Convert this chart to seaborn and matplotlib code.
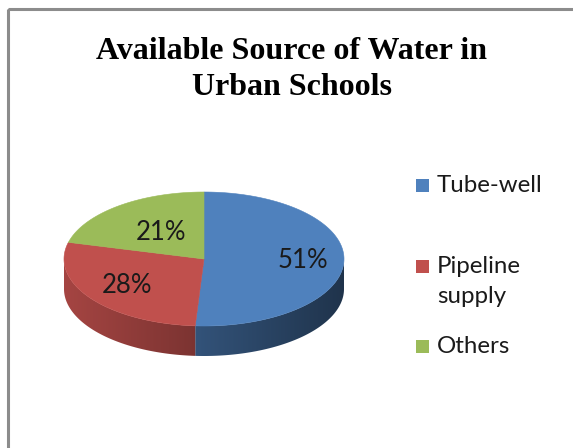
import numpy as np
import matplotlib
matplotlib.use("Agg")
import matplotlib.pyplot as plt
from matplotlib.patches import Polygon, Rectangle
from matplotlib.colors import to_rgb
import seaborn as sns

sns.set_style("white")
plt.rcParams["font.family"] = ["Lato", "DejaVu Sans"]

# Data
categories = ["Tube-well", "Pipeline supply", "Others"]
legend_labels = ["Tube-well", "Pipeline\nsupply", "Others"]
shares = [51, 28, 21]
colors = ["#4F81BD", "#C0504D", "#9BBB59"]
title = "Available Source of Water in\nUrban Schools"

W, H = 573, 448
fig = plt.figure(figsize=(W / 100, H / 100), dpi=100)
ax = fig.add_axes([0, 0, 1, 1])
ax.set_xlim(0, W)
ax.set_ylim(H, 0)
ax.axis("off")

# chart frame (only top and left edges fall inside the image)
ax.add_patch(Rectangle((7.5, 9.5), W + 20, H + 20, fill=False,
                       edgecolor="#8c8c8c", linewidth=2.2, zorder=1))

# 3-D pie geometry (screen pixels)
cx, cy, a, b, depth = 204, 259, 140, 67, 30


def rim(theta_deg, dy=0.0):
    t = np.radians(theta_deg)
    return np.column_stack([cx + a * np.sin(t), cy - b * np.cos(t) + dy])


total = float(sum(shares))
bounds = np.concatenate([[0], np.cumsum(shares)]) / total * 360.0

# side walls (front half only: 90..270 degrees clockwise from top)
x_left, x_right = cx - a, cx + a
gx = np.linspace(x_left, x_right, 400)
shade = 0.86 - 0.46 * (gx - x_left) / (x_right - x_left)
for i, col in enumerate(colors):
    t0, t1 = bounds[i], bounds[i + 1]
    s0, s1 = max(t0, 90.0), min(t1, 270.0)
    if s1 <= s0:
        continue
    ts = np.linspace(s0, s1, 200)
    top = rim(ts)
    bot = rim(ts[::-1], depth)
    poly = Polygon(np.vstack([top, bot]), closed=True, facecolor="none",
                   edgecolor="none")
    ax.add_patch(poly)
    base = np.array(to_rgb(col))
    grad = np.clip(shade[None, :, None] * base[None, None, :], 0, 1)
    grad = np.repeat(grad, 2, axis=0)
    im = ax.imshow(grad, extent=(x_left, x_right, cy + b + depth + 2, cy - 2),
                   aspect="auto", interpolation="bilinear", zorder=2)
    im.set_clip_path(poly)

# top face
for i, col in enumerate(colors):
    ts = np.linspace(bounds[i], bounds[i + 1], 200)
    pts = np.vstack([[cx, cy], rim(ts)])
    ax.add_patch(Polygon(pts, closed=True, facecolor=col, edgecolor=col,
                         linewidth=0.4, zorder=3))

# percentage labels
label_r = [0.71, 0.68, 0.5]
for i, v in enumerate(shares):
    mid = np.radians((bounds[i] + bounds[i + 1]) / 2)
    lx = cx + label_r[i] * a * np.sin(mid)
    ly = cy - label_r[i] * b * np.cos(mid)
    ax.text(lx, ly, f"{v}%", ha="center", va="center", fontsize=18.5,
            color="#1a1a1a", zorder=4)

# title
ax.text(292, 95, title, ha="center", va="baseline", fontsize=23,
        fontweight="bold", family="Liberation Serif", linespacing=1.33,
        color="black", zorder=4)

# legend
legend_base = [192, 273, 353]
for lab, col, y in zip(legend_labels, colors, legend_base):
    ax.add_patch(Rectangle((416, y - 13), 13, 13, facecolor=col,
                           edgecolor="none", zorder=4))
    lines = lab.split("\n")
    for k, line in enumerate(lines):
        ax.text(437, y + 30 * k, line, ha="left", va="baseline",
                fontsize=17.3, color="#1a1a1a", zorder=4)

fig.savefig("out.png", dpi=100)
